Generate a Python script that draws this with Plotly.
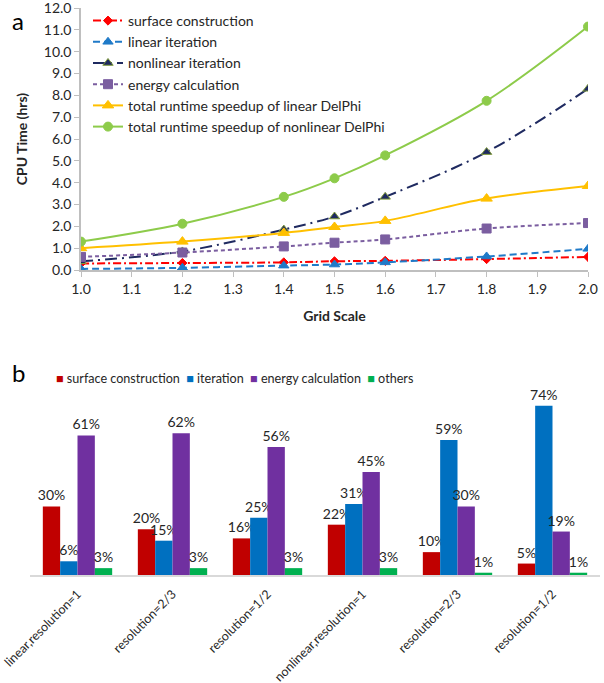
import plotly.graph_objects as go

# ---- Panel a data ----
grid_scale = [1.0, 1.2, 1.4, 1.5, 1.6, 1.8, 2.0]
surface_construction = [0.30, 0.32, 0.35, 0.40, 0.42, 0.50, 0.60]
linear_iteration = [0.05, 0.10, 0.20, 0.25, 0.35, 0.62, 0.97]
nonlinear_iteration = [0.40, 0.85, 1.85, 2.45, 3.35, 5.40, 8.30]
energy_calculation = [0.60, 0.80, 1.08, 1.25, 1.40, 1.90, 2.15]
total_linear = [1.00, 1.30, 1.70, 1.97, 2.25, 3.27, 3.85]
total_nonlinear = [1.30, 2.12, 3.35, 4.20, 5.25, 7.75, 11.15]

# ---- Panel b data ----
categories = ["linear,resolution=1", "resolution=2/3", "resolution=1/2",
              "nonlinear,resolution=1", "resolution=2/3", "resolution=1/2"]
pct_surface = [30, 20, 16, 22, 10, 5]
pct_iteration = [6, 15, 25, 31, 59, 74]
pct_energy = [61, 62, 56, 45, 30, 19]
pct_others = [3, 3, 3, 3, 1, 1]

FONT = "Lato, 'Open Sans', sans-serif"
W, H = 604, 683

def px_x(p):
    return p / W

def px_y(p):
    return 1 - p / H

fig = go.Figure()

line_specs = [
    ("surface construction", surface_construction, "#FF0000", "8px,3px,2px,3px", "diamond", 7, "#FF0000"),
    ("linear iteration", linear_iteration, "#1F7AC8", "7px,4px", "triangle-up", 9, "#1F7AC8"),
    ("nonlinear iteration", nonlinear_iteration, "#1F2A60", "12px,5px,2px,5px", "triangle-up", 9, "#1F2A60"),
    ("energy calculation", energy_calculation, "#7B5EA0", "4px,3px", "square", 9, "#7B5EA0"),
    ("total runtime speedup of linear DelPhi", total_linear, "#FFC000", None, "triangle-up", 10, "#FFC000"),
    ("total runtime speedup of nonlinear DelPhi", total_nonlinear, "#8DCB4A", None, "circle", 9, "#8DCB4A"),
]
for name, vals, color, dash, sym, size, mcol in line_specs:
    fig.add_trace(go.Scatter(
        x=grid_scale, y=vals, name=name, mode="lines+markers",
        line=dict(color=color, width=2, dash=dash or "solid", shape="spline"),
        marker=dict(symbol=sym, size=size, color=mcol,
                    line=dict(color="#7F9A3A" if name == "nonlinear iteration" else mcol, width=1)),
        xaxis="x", yaxis="y", legend="legend",
    ))

bar_specs = [
    ("surface construction", pct_surface, "#C00000"),
    ("iteration", pct_iteration, "#0070C0"),
    ("energy calculation", pct_energy, "#7030A0"),
    ("others", pct_others, "#00B050"),
]
xidx = list(range(len(categories)))
for name, vals, color in bar_specs:
    fig.add_trace(go.Bar(
        x=xidx, y=vals, name=name, marker=dict(color=color, line=dict(width=0)),
        text=[f"{v}%" for v in vals], textposition="outside", constraintext="none",
        textfont=dict(size=14, color="#262626", family=FONT),
        cliponaxis=False, xaxis="x2", yaxis="y2", showlegend=False,
    ))

# legend of panel b drawn as a single line of text with coloured squares
legend_b = "\u2002".join(
    f"<span style='color:{c}'>\u25A0</span> {n}" for n, _, c in bar_specs
)

axis_col = "#BFBFBF"
fig.update_layout(
    width=W, height=H, autosize=False,
    margin=dict(l=0, r=0, t=0, b=0),
    paper_bgcolor="white", plot_bgcolor="white",
    font=dict(family=FONT, size=14, color="#262626"),
    barmode="group", bargap=0.27, bargroupgap=0,
    xaxis=dict(
        domain=[px_x(81), px_x(588)], anchor="y", automargin=False,
        range=[1.0, 2.0], dtick=0.1, tick0=1.0, tickformat=".1f",
        showgrid=False, zeroline=False, showline=True, linecolor=axis_col, linewidth=1.5,
        ticks="outside", ticklen=5, tickcolor=axis_col, ticklabeloverflow="allow",
        tickfont=dict(size=14),
        title=dict(text="<b>Grid Scale</b>", font=dict(size=14), standoff=16),
    ),
    yaxis=dict(
        domain=[px_y(270), px_y(8)], anchor="x", automargin=False,
        range=[0, 12.001], tickvals=list(range(13)), tickformat=".1f",
        showgrid=False, zeroline=False, showline=True, linecolor=axis_col, linewidth=1.5,
        ticks="outside", ticklen=5, tickcolor=axis_col, ticklabeloverflow="allow",
        tickfont=dict(size=14),
        title=dict(text="<b>CPU Time (hrs)</b>", font=dict(size=14), standoff=13),
    ),
    xaxis2=dict(
        domain=[px_x(30), px_x(600)], anchor="y2", automargin=False,
        range=[-0.5, 5.5],
        tickvals=xidx, ticktext=categories, tickangle=-45,
        tickfont=dict(size=12.5), ticklabeloverflow="allow",
        showgrid=False, zeroline=False, showline=True, linecolor="#D9D9D9", linewidth=2,
        ticks="outside", ticklen=5, tickcolor="rgba(0,0,0,0)",
    ),
    yaxis2=dict(
        domain=[px_y(575), px_y(392)], anchor="x2", automargin=False,
        range=[0, 80], visible=False,
    ),
    legend=dict(
        x=px_x(88), y=px_y(5), xanchor="left", yanchor="top",
        bgcolor="rgba(0,0,0,0)", font=dict(size=14), tracegroupgap=0,
        itemwidth=30,
    ),
    annotations=[
        dict(text="a", x=px_x(10), y=px_y(20), xref="paper", yref="paper",
             showarrow=False, font=dict(size=24, color="#000"), xanchor="left", yanchor="middle"),
        dict(text="b", x=px_x(10), y=px_y(372), xref="paper", yref="paper",
             showarrow=False, font=dict(size=24, color="#000"), xanchor="left", yanchor="middle"),
        dict(text=legend_b, x=px_x(54), y=px_y(378), xref="paper", yref="paper",
             showarrow=False, font=dict(size=12.6, color="#262626"), xanchor="left", yanchor="middle"),
    ],
)

fig.write_html("out.html", config={"displayModeBar": False},
               post_script="document.body.style.margin='0px';")
